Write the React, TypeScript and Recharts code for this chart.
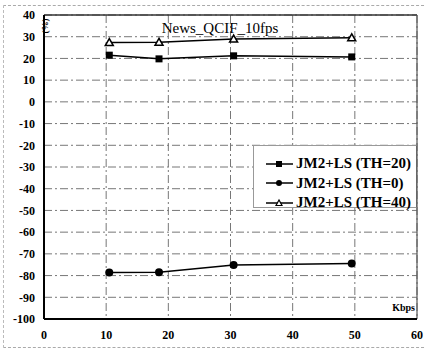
import {
  LineChart,
  Line,
  XAxis,
  YAxis,
  CartesianGrid,
  Legend,
  ReferenceLine,
} from "recharts";

const bitrates = [10.5, 18.5, 30.5, 49.5];
const th20 = [21.5, 19.8, 21.2, 20.7];
const th0 = [-78.6, -78.5, -75.1, -74.4];
const th40 = [27.3, 27.4, 28.9, 29.5];

const xTicks = [0, 10, 20, 30, 40, 50, 60];
const yTicks = [40, 30, 20, 10, 0, -10, -20, -30, -40, -50, -60, -70, -80, -90, -100];

const seriesNames = ["JM2+LS (TH=20)", "JM2+LS (TH=0)", "JM2+LS (TH=40)"];

const data = bitrates.map((x, i) => ({
  x,
  th20: th20[i],
  th0: th0[i],
  th40: th40[i],
}));

const serif = "'Liberation Serif', 'Times New Roman', serif";
const tickStyle = { fill: "#000", fontFamily: serif, fontWeight: "bold", fontSize: 12 };

function Square(props: any) {
  const { cx, cy } = props;
  if (cx == null || cy == null) return null;
  return <rect x={cx - 3.5} y={cy - 3.5} width={7} height={7} fill="#000" />;
}

function Diamond(props: any) {
  const { cx, cy } = props;
  if (cx == null || cy == null) return null;
  return <circle cx={cx} cy={cy} r={4} fill="#000" />;
}

function Triangle(props: any) {
  const { cx, cy } = props;
  if (cx == null || cy == null) return null;
  return (
    <polygon
      points={`${cx},${cy - 4} ${cx - 4},${cy + 3} ${cx + 4},${cy + 3}`}
      fill="#fff"
      stroke="#000"
      strokeWidth={1.5}
    />
  );
}

function legendIcon(i: number) {
  const cx = 13;
  const cy = 7;
  let mark = null;
  if (i === 0) mark = <rect x={cx - 3} y={cy - 3} width={6} height={6} fill="#000" />;
  if (i === 1) mark = <circle cx={cx} cy={cy} r={3} fill="#000" />;
  if (i === 2)
    mark = (
      <polygon
        points={`${cx},${cy - 3} ${cx - 3},${cy + 2.5} ${cx + 3},${cy + 2.5}`}
        fill="#fff"
        stroke="#000"
        strokeWidth={1.2}
      />
    );
  return (
    <svg width={27} height={14} style={{ display: "block" }}>
      <line x1={0} y1={cy} x2={27} y2={cy} stroke="#000" strokeWidth={1.5} />
      {mark}
    </svg>
  );
}

function ChartLegend() {
  return (
    <div
      style={{
        width: 164,
        height: 63,
        boxSizing: "border-box",
        background: "#fff",
        borderTop: "1px solid #999",
        borderLeft: "1px solid #999",
        borderBottom: "1px solid #999",
        borderRight: "1px solid #666",
        padding: "8px 0 0 12px",
      }}
    >
      {seriesNames.map((name, i) => (
        <div
          key={name}
          style={{ display: "flex", alignItems: "center", height: 19.5 }}
        >
          {legendIcon(i)}
          <span
            style={{
              marginLeft: 3,
              fontFamily: serif,
              fontWeight: "bold",
              fontSize: 15,
              color: "#000",
              whiteSpace: "nowrap",
            }}
          >
            {name}
          </span>
        </div>
      ))}
    </div>
  );
}

export default function App() {
  return (
    <div
      style={{
        position: "absolute",
        left: 0,
        top: 0,
        width: 426,
        height: 350,
        background: "#fff",
      }}
    >
      <div
        style={{
          position: "absolute",
          left: 3,
          top: 5,
          width: 430,
          height: 341,
          borderTop: "1px dashed #aaa",
          borderLeft: "1px dashed #bbb",
          borderBottom: "1px dashed #aaa",
        }}
      />
      <LineChart
        width={426}
        height={350}
        data={data}
        margin={{ top: 15, right: 9, bottom: 0, left: 0 }}
        style={{ position: "absolute", left: 0, top: 0 }}
      >
        <CartesianGrid
          stroke="#777"
          strokeDasharray="8 3 2 3"
          horizontalValues={yTicks}
          verticalValues={xTicks}
        />
        <XAxis
          dataKey="x"
          type="number"
          domain={[0, 60]}
          ticks={xTicks}
          height={31}
          tickSize={0}
          tickMargin={11}
          tick={tickStyle}
          axisLine={{ stroke: "#000", strokeWidth: 2 }}
        />
        <YAxis
          type="number"
          domain={[-100, 40]}
          ticks={yTicks}
          width={44}
          tickSize={0}
          tickMargin={9}
          tick={tickStyle}
          interval={0}
          axisLine={{ stroke: "#000", strokeWidth: 2 }}
        />
        <ReferenceLine y={40} stroke="#333" strokeWidth={1.5} />
        <ReferenceLine x={60} stroke="#555" strokeWidth={1.2} />
        <Line
          dataKey="th20"
          name={seriesNames[0]}
          stroke="#000"
          strokeWidth={1.5}
          dot={<Square />}
          isAnimationActive={false}
        />
        <Line
          dataKey="th0"
          name={seriesNames[1]}
          stroke="#000"
          strokeWidth={1.5}
          dot={<Diamond />}
          isAnimationActive={false}
        />
        <Line
          dataKey="th40"
          name={seriesNames[2]}
          stroke="#000"
          strokeWidth={1.5}
          dot={<Triangle />}
          isAnimationActive={false}
        />
        <Legend
          layout="horizontal"
          verticalAlign="middle"
          align="center"
          content={<ChartLegend />}
          wrapperStyle={{ left: 253, top: 145, width: 164 }}
        />
        <text
          x={220}
          y={33}
          textAnchor="middle"
          fontFamily={serif}
          fontSize={15}
          fill="#000"
        >
          News_QCIF_10fps
        </text>
        <text
          x={48}
          y={26}
          textAnchor="middle"
          fontFamily={serif}
          fontWeight="bold"
          fontSize={9}
          fill="#000"
          transform="rotate(-90 48 26)"
        >
          (%)
        </text>
        <text
          x={415}
          y={311}
          textAnchor="end"
          fontFamily={serif}
          fontWeight="bold"
          fontSize={10}
          fill="#000"
        >
          Kbps
        </text>
      </LineChart>
    </div>
  );
}
